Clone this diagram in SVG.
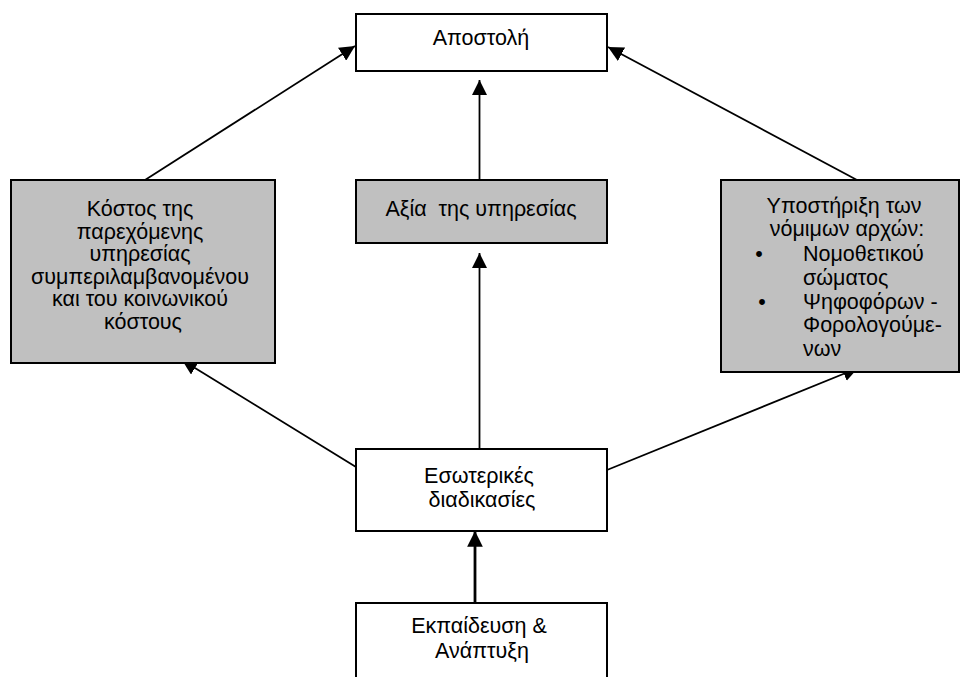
<svg xmlns="http://www.w3.org/2000/svg" width="960" height="677" viewBox="0 0 960 677">
  <style>
    .box { fill: #ffffff; stroke: #000000; stroke-width: 2; }
    .shade { fill: #c0c0c0; stroke: #000000; stroke-width: 2; }
    .lbl { font-family: "Liberation Sans", Arial, sans-serif; font-size: 21.5px; fill: #000000; text-anchor: middle; }
    .lft { text-anchor: start; }
    .edge { stroke: #000000; stroke-width: 1.8; fill: none; marker-end: url(#head); }
    .thick { stroke-width: 2.8; marker-end: url(#headT); }
  </style>
  <defs>
    <marker id="head" viewBox="0 0 10 10" refX="10" refY="5" markerWidth="8.5" markerHeight="8.5" markerUnits="strokeWidth" orient="auto">
      <path d="M0,0 L10,5 L0,10 Z" fill="#000000"/>
    </marker>
    <marker id="headT" viewBox="0 0 10 10" refX="10" refY="5" markerWidth="5.6" markerHeight="5.6" markerUnits="strokeWidth" orient="auto">
      <path d="M0,0 L10,5 L0,10 Z" fill="#000000"/>
    </marker>
  </defs>

  <g id="connectors">
    <line class="edge" x1="145" y1="180" x2="355" y2="46"/>
    <line class="edge" x1="479.5" y1="180" x2="479.5" y2="80"/>
    <line class="edge" x1="857" y1="180" x2="608" y2="47"/>
    <line class="edge" x1="479.5" y1="449" x2="479.5" y2="253"/>
    <line class="edge" x1="356" y1="467" x2="182" y2="360"/>
    <line class="edge" x1="607" y1="470" x2="858" y2="368"/>
    <line class="edge thick" x1="475" y1="603" x2="475" y2="531"/>
  </g>

  <g id="mission">
    <rect class="box" x="356" y="14" width="251" height="57"/>
    <text class="lbl" x="481" y="45">Αποστολή</text>
  </g>

  <g id="cost">
    <rect class="shade" x="11" y="180" width="264" height="183"/>
    <text class="lbl">
      <tspan x="143" y="216">Κόστος της</tspan>
      <tspan x="143" y="238.5">παρεχόμενης</tspan>
      <tspan x="143" y="261">υπηρεσίας</tspan>
      <tspan x="143" y="283.5">συμπεριλαμβανομένου</tspan>
      <tspan x="143" y="306">και του κοινωνικού</tspan>
      <tspan x="143" y="328.5">κόστους</tspan>
    </text>
  </g>

  <g id="value">
    <rect class="shade" x="356" y="180" width="251" height="63"/>
    <text class="lbl" x="481" y="216" xml:space="preserve">Αξία  της υπηρεσίας</text>
  </g>

  <g id="support">
    <rect class="shade" x="721" y="180" width="238" height="192"/>
    <text class="lbl">
      <tspan x="847" y="213">Υποστήριξη των</tspan>
      <tspan x="847" y="236">νόμιμων αρχών:</tspan>
    </text>
    <text class="lbl">
      <tspan x="762" y="261">•</tspan>
      <tspan x="762" y="309">•</tspan>
    </text>
    <text class="lbl lft">
      <tspan x="803" y="261">Νομοθετικού</tspan>
      <tspan x="803" y="285">σώματος</tspan>
      <tspan x="803" y="309">Ψηφοφόρων -</tspan>
      <tspan x="803" y="332">Φορολογούμε-</tspan>
      <tspan x="803" y="356">νων</tspan>
    </text>
  </g>

  <g id="processes">
    <rect class="box" x="356" y="449" width="251" height="82"/>
    <text class="lbl">
      <tspan x="482" y="483">Εσωτερικές</tspan>
      <tspan x="482" y="507">διαδικασίες</tspan>
    </text>
  </g>

  <g id="learning">
    <rect class="box" x="356" y="603" width="251" height="80"/>
    <text class="lbl">
      <tspan x="482" y="633">Εκπαίδευση &amp;</tspan>
      <tspan x="482" y="658">Ανάπτυξη</tspan>
    </text>
  </g>
</svg>
